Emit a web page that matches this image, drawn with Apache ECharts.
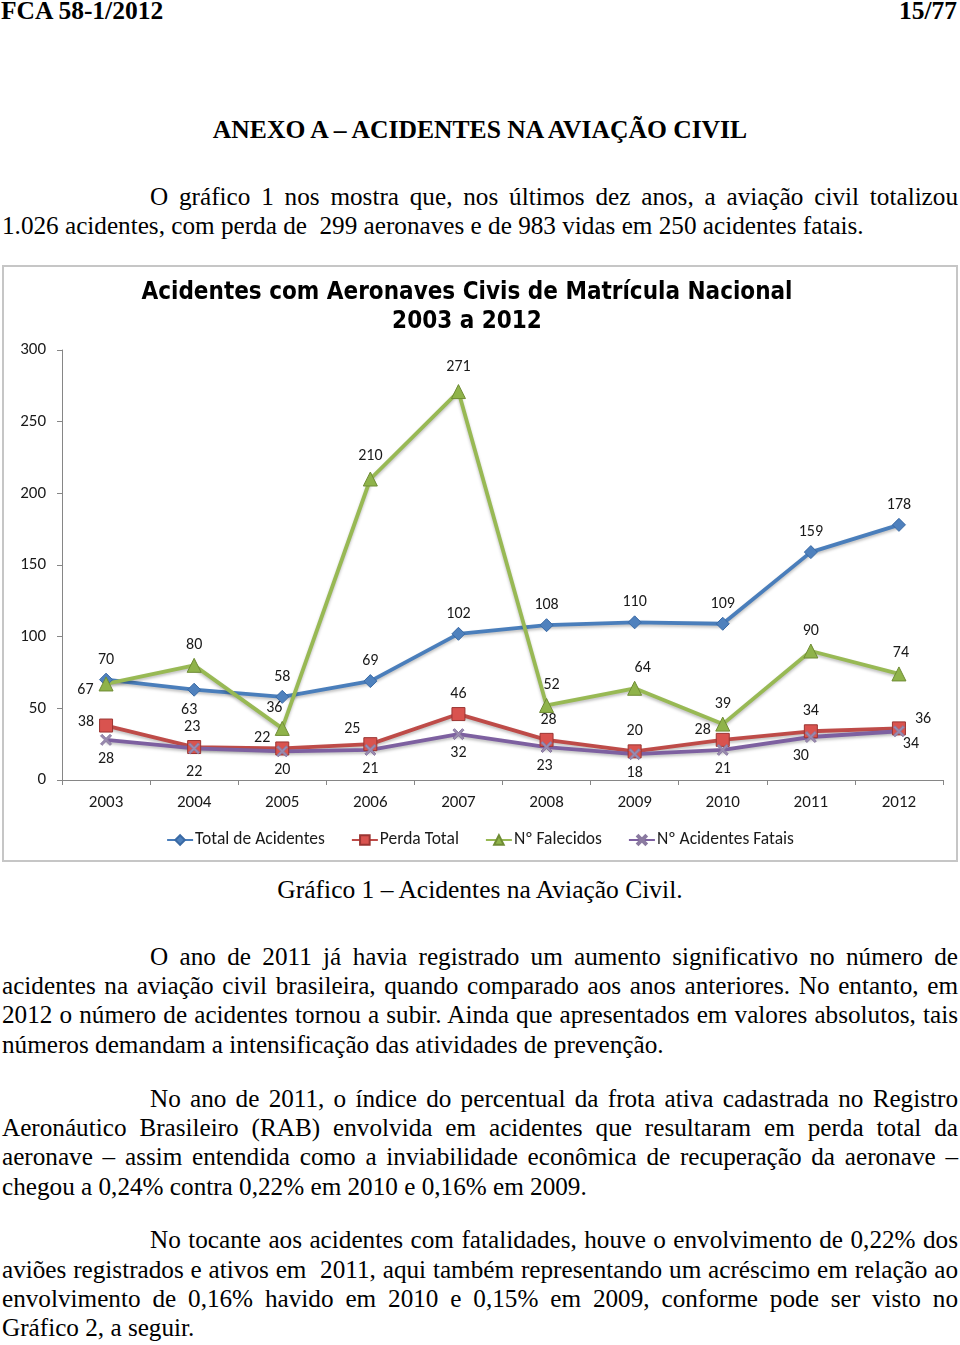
<!DOCTYPE html>
<html><head><meta charset="utf-8">
<script src="https://cdn.jsdelivr.net/npm/echarts@6/dist/echarts.min.js"></script>
<style>
html,body{margin:0;padding:0;background:#fff;}
body{width:960px;height:1345px;position:relative;overflow:hidden;font-family:"Liberation Serif","Times New Roman",serif;color:#000;}
.t{position:absolute;font-size:25.3px;line-height:29px;white-space:nowrap;}
.j{position:absolute;left:2px;width:956px;font-size:25.2px;line-height:29px;text-align:justify;text-align-last:justify;}
.j.i{left:150px;width:808px;}
.j.l{text-align:left;text-align-last:left;}
#box{position:absolute;left:2px;top:265px;width:956px;height:597px;box-sizing:border-box;border:2px solid #c6c6c6;}
#chart{position:absolute;left:0;top:0;width:952px;height:593px;}
</style></head>
<body>
<div class="t" style="left:1px;top:-4px;font-weight:bold;font-size:25.5px;">FCA 58-1/2012</div>
<div class="t" style="right:3px;top:-4px;font-weight:bold;font-size:25.5px;">15/77</div>
<div class="t" style="left:0;width:960px;text-align:center;top:115px;font-weight:bold;font-size:25.6px;">ANEXO A – ACIDENTES NA AVIAÇÃO CIVIL</div>

<div class="j i" style="top:182px;">O gráfico 1 nos mostra que, nos últimos dez anos, a aviação civil totalizou</div>
<div class="j l" style="top:211px;">1.026 acidentes, com perda de&nbsp; 299 aeronaves e de 983 vidas em 250 acidentes fatais.</div>

<div id="box"><div id="chart"></div></div>

<div class="t" style="left:0;width:960px;text-align:center;top:875px;font-size:25.5px;">Gráfico 1 – Acidentes na Aviação Civil.</div>

<div class="j i" style="top:942px;">O ano de 2011 já havia registrado um aumento significativo no número de</div>
<div class="j" style="top:971px;">acidentes na aviação civil brasileira, quando comparado aos anos anteriores. No entanto, em</div>
<div class="j" style="top:1000px;">2012 o número de acidentes tornou a subir. Ainda que apresentados em valores absolutos, tais</div>
<div class="j l" style="top:1030px;">números demandam a intensificação das atividades de prevenção.</div>

<div class="j i" style="top:1084px;">No ano de 2011, o índice do percentual da frota ativa cadastrada no Registro</div>
<div class="j" style="top:1113px;">Aeronáutico Brasileiro (RAB) envolvida em acidentes que resultaram em perda total da</div>
<div class="j" style="top:1142px;">aeronave – assim entendida como a inviabilidade econômica de recuperação da aeronave –</div>
<div class="j l" style="top:1172px;">chegou a 0,24% contra 0,22% em 2010 e 0,16% em 2009.</div>

<div class="j i" style="top:1225px;">No tocante aos acidentes com fatalidades, houve o envolvimento de 0,22% dos</div>
<div class="j" style="top:1255px;">aviões registrados e ativos em&nbsp; 2011, aqui também representando um acréscimo em relação ao</div>
<div class="j" style="top:1284px;">envolvimento de 0,16% havido em 2010 e 0,15% em 2009, conforme pode ser visto no</div>
<div class="j l" style="top:1313px;">Gráfico 2, a seguir.</div>

<script>
// ---- data ----
const years = ['2003','2004','2005','2006','2007','2008','2009','2010','2011','2012'];
const totalAcidentes = [70, 63, 58, 69, 102, 108, 110, 109, 159, 178];
const perdaTotal = [38, 23, 22, 25, 46, 28, 20, 28, 34, 36];
const falecidos = [67, 80, 36, 210, 271, 52, 64, 39, 90, 74];
const acidentesFatais = [28, 22, 20, 21, 32, 23, 18, 21, 30, 34];
const seriesNames = ['Total de Acidentes', 'Perda Total', 'Nº Falecidos', 'Nº Acidentes Fatais'];
const chartTitle = 'Acidentes com Aeronaves Civis de Matrícula Nacional\n2003 a 2012';

// ---- label placement (style only) ----
const totalPlace = [['top',0,0],['bottom',-5,0],['top',0,0],['top',0,0],['top',0,0],['top',0,0],['top',0,0],['top',0,0],['top',0,0],['top',0,0]];
const perdaPlace = [['left',0,-4],['top',-2,0],['left',0,-10],['left',2,-15],['top',0,0],['top',2,0],['top',0,0],['left',0,-10],['top',0,0],['right',4,-9]];
const falecPlace = [['left',0,6],['top',0,0],['top',-8,0],['top',0,-3],['top',0,-4],['top',5,0],['top',8,0],['top',0,0],['top',0,0],['top',2,0]];
const fataisPlace = [['bottom',0,0],['bottom',0,5],['bottom',0,0],['bottom',0,0],['bottom',0,0],['bottom',-2,0],['bottom',0,0],['bottom',0,0],['bottom',-10,0],['bottom',12,-6]];

function withLabels(values, place) {
  return values.map((v, i) => ({
    value: v,
    label: { position: place[i][0], offset: [place[i][1], place[i][2]] }
  }));
}

const font = 'Carlito, Lato, "Open Sans", sans-serif';
const xSymbol = 'path://M0,1.4L1.4,0L5,3.6L8.6,0L10,1.4L6.4,5L10,8.6L8.6,10L5,6.4L1.4,10L0,8.6L3.6,5Z';

function lineSeries(name, values, place, color, symbol, size, symColor, border) {
  return {
    name: name, type: 'line', data: withLabels(values, place),
    symbol: symbol, symbolSize: size,
    lineStyle: { color: color, width: 3.8, shadowColor: 'rgba(0,0,0,0.25)', shadowBlur: 3, shadowOffsetY: 2 },
    itemStyle: { color: symColor, borderColor: border, borderWidth: 1 },
    label: { show: true, fontFamily: font, fontSize: 16, color: '#1a1a1a', distance: 5 },
    emphasis: { disabled: true },
    animation: false
  };
}

const chart = echarts.init(document.getElementById('chart'), null, { renderer: 'canvas' });
chart.setOption({
  backgroundColor: '#fff',
  animation: false,
  title: {
    text: chartTitle, left: 458, textAlign: 'center', top: 6,
    textStyle: { fontFamily: '"Liberation Sans Narrow", "DejaVu Sans Condensed", "Liberation Sans", sans-serif', fontWeight: 'bold', fontSize: 24, lineHeight: 29, color: '#000' }
  },
  legend: {
    bottom: 6, left: 'center', itemWidth: 26, itemHeight: 12, itemGap: 26,
    data: seriesNames,
    textStyle: { fontFamily: font, fontSize: 17.5, color: '#1a1a1a', padding: [0, 0, 0, -3] }
  },
  grid: { left: 58, right: 13, top: 83, bottom: 80, containLabel: false },
  xAxis: {
    type: 'category', data: years, boundaryGap: true,
    axisLine: { lineStyle: { color: '#868686', width: 1 } },
    axisTick: { show: true, length: 5, inside: false, lineStyle: { color: '#868686' } },
    axisLabel: { fontFamily: font, fontSize: 17, color: '#1a1a1a', margin: 14 }
  },
  yAxis: {
    type: 'value', min: 0, max: 300, interval: 50,
    splitLine: { show: false },
    axisLine: { show: true, lineStyle: { color: '#868686', width: 1 } },
    axisTick: { show: true, length: 5, lineStyle: { color: '#868686' } },
    axisLabel: { fontFamily: font, fontSize: 17, color: '#1a1a1a', margin: 16 }
  },
  series: [
    lineSeries(seriesNames[0], totalAcidentes, totalPlace, '#4a7ebb', 'diamond', 13, '#4f81bd', '#3a6aa5'),
    lineSeries(seriesNames[1], perdaTotal, perdaPlace, '#be4b48', 'rect', 13, '#d9534f', '#9b3532'),
    lineSeries(seriesNames[2], falecidos, falecPlace, '#98b954', 'triangle', 14, '#8fb34a', '#6f8c35'),
    lineSeries(seriesNames[3], acidentesFatais, fataisPlace, '#7d60a0', xSymbol, 11, '#9a8bb0', '#8a7aa0')
  ]
});
</script>
</body></html>
